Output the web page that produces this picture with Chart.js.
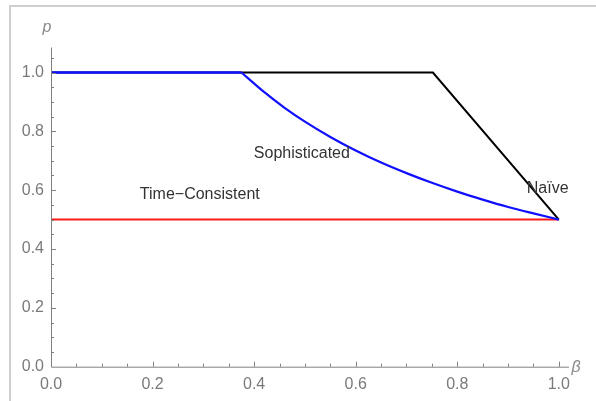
<!DOCTYPE html>
<html>
<head>
<meta charset="utf-8">
<script src="https://cdn.jsdelivr.net/npm/chart.js@4/dist/chart.umd.min.js"></script>
<style>
html,body{margin:0;padding:0;background:#fff;}
#wrap{position:relative;width:596px;height:401px;}
</style>
</head>
<body>
<div id="wrap"><canvas id="c" width="596" height="401"></canvas></div>
<script>
// ---- data ----
const sophFlatBeta = [0, 0.375];
const sophFlatP    = [1, 1];
const sophBeta = [0.375, 0.42, 0.46, 0.50, 0.55, 0.60, 0.65, 0.70, 0.75, 0.80, 0.85, 0.90, 0.95, 1.0];
const sophP    = [1.0,   0.933, 0.880, 0.833, 0.781, 0.735, 0.694, 0.658, 0.625, 0.595, 0.568, 0.543, 0.521, 0.5];
const naiveBeta = [0, 0.752, 1.0];
const naiveP    = [1, 1,     0.5];
const timeBeta = [0, 1.0];
const timeP    = [0.5, 0.5];
const xTicks = [0, 0.2, 0.4, 0.6, 0.8, 1.0];
const yTicks = [0, 0.2, 0.4, 0.6, 0.8, 1.0];
const labelTexts = ["Sophisticated", "Time\u2212Consistent", "Na\u00efve"];
const labelBeta  = [0.494, 0.293, 0.978];
const labelP     = [0.726, 0.585, 0.606];

const toPts = (xs, ys) => xs.map((x, i) => ({x: x, y: ys[i]}));

const decor = {
  id: 'decor',
  beforeDraw(chart) {
    const ctx = chart.ctx;
    ctx.save();
    ctx.strokeStyle = '#cfcfcf';
    ctx.lineWidth = 2;
    ctx.beginPath();
    ctx.moveTo(10, 401);
    ctx.lineTo(10, 6);
    ctx.lineTo(596, 6);
    ctx.stroke();
    ctx.restore();
  },
  afterDraw(chart) {
    const ctx = chart.ctx;
    const xs = chart.scales.x, ys = chart.scales.y;
    const x0 = xs.getPixelForValue(0), y0 = ys.getPixelForValue(0);
    ctx.save();
    ctx.strokeStyle = '#808080';
    ctx.lineWidth = 1;
    ctx.beginPath();
    ctx.moveTo(x0 + 0.5, ys.top);
    ctx.lineTo(x0 + 0.5, y0 + 0.5);
    ctx.lineTo(xs.right, y0 + 0.5);
    ctx.stroke();
    ctx.beginPath();
    for (let k = 1; k <= 20; k++) {
      const v = k * 0.05;
      const len = (k % 4 === 0) ? 5 : 3;
      const px = Math.round(xs.getPixelForValue(v)) + 0.5;
      ctx.moveTo(px, y0); ctx.lineTo(px, y0 - len);
    }
    for (let k = 1; k <= 21; k++) {
      const v = k * 0.05;
      const len = (k % 4 === 0) ? 5 : 3;
      const py = Math.round(ys.getPixelForValue(v)) + 0.5;
      ctx.moveTo(x0, py); ctx.lineTo(x0 + len, py);
    }
    ctx.stroke();
    ctx.fillStyle = '#8a8a8a';
    ctx.font = 'italic 16px "Liberation Sans", Arial, sans-serif';
    ctx.textAlign = 'center';
    ctx.textBaseline = 'middle';
    ctx.fillText('p', 47, 28);
    ctx.fillText('\u03b2', 576, 368);
    ctx.fillStyle = '#333333';
    ctx.font = '16px "Liberation Sans", Arial, sans-serif';
    for (let i = 0; i < labelTexts.length; i++) {
      ctx.fillText(labelTexts[i], xs.getPixelForValue(labelBeta[i]), ys.getPixelForValue(labelP[i]));
    }
    ctx.restore();
  }
};

new Chart(document.getElementById('c'), {
  type: 'scatter',
  data: {
    datasets: [
      {label: 'Sophisticated flat', data: toPts(sophFlatBeta, sophFlatP), showLine: true, borderColor: '#1010ff', borderWidth: 2.4, pointRadius: 0},
      {label: 'Sophisticated', data: toPts(sophBeta, sophP), showLine: true, borderColor: '#1010ff', borderWidth: 2.2, pointRadius: 0, cubicInterpolationMode: 'monotone'},
      {label: 'Naive', data: toPts(naiveBeta, naiveP), showLine: true, borderColor: '#000000', borderWidth: 2, pointRadius: 0},
      {label: 'Time-Consistent', data: toPts(timeBeta, timeP), showLine: true, borderColor: '#ff1a1a', borderWidth: 2, pointRadius: 0}
    ]
  },
  options: {
    responsive: false,
    animation: false,
    events: [],
    layout: {padding: {left: 0, top: 47.5, right: 27, bottom: 0}},
    plugins: {legend: {display: false}, tooltip: {enabled: false}},
    scales: {
      x: {
        type: 'linear', min: 0, max: 1.02,
        afterBuildTicks: s => { s.ticks = xTicks.map(v => ({value: v})); },
        afterFit: s => { s.height = 34.3; },
        grid: {display: false, drawTicks: false},
        border: {display: false},
        ticks: {
          color: '#7a7a7a', padding: 8,
          font: {size: 16, family: '"Liberation Sans", Arial, sans-serif'},
          callback: v => Number(v).toFixed(1), maxRotation: 0
        }
      },
      y: {
        type: 'linear', min: 0, max: 1.085,
        afterBuildTicks: s => { s.ticks = yTicks.map(v => ({value: v})); },
        afterFit: s => { s.width = 51; },
        grid: {display: false, drawTicks: false},
        border: {display: false},
        ticks: {
          color: '#7a7a7a', padding: 7,
          font: {size: 16, family: '"Liberation Sans", Arial, sans-serif'},
          callback: v => Number(v).toFixed(1)
        }
      }
    }
  },
  plugins: [decor]
});
</script>
</body>
</html>
